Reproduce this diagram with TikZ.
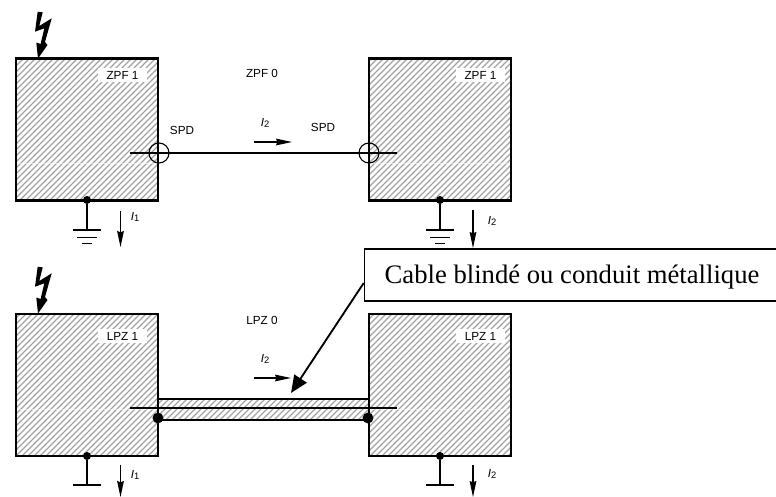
\documentclass[tikz,border=0pt]{standalone}
\usepackage{fontspec}
\setmainfont{Liberation Sans}
\newfontfamily\serifcallout{Liberation Serif}
\usetikzlibrary{arrows.meta}
\newcommand{\curlabel}[1]{\textit{I}\raisebox{-0.25ex}{\fontsize{7}{8}\selectfont #1}}
\newcommand{\hatchzone}[4]{%
  \begin{scope}
    \clip (#1,#2) rectangle (#3,#4);
    \foreach \k in {-600,-594,...,800} {\draw[hatchline] (\k,520) -- ++(520,-520);}
  \end{scope}}
\newcommand{\bolt}[1]{%
  \fill[black,shift={(0,#1)}] (37.7,11.7) -- (42.7,12.3) -- (39.3,26) -- (51.7,18.3) -- (45,42) -- (47.5,45) -- (38,58.5) -- (36.3,42.5) -- (40.6,44) -- (44.3,28.3) -- (35,31.7) -- cycle;}
\tikzset{
  x=0.75pt,y=-0.75pt,
  hatchline/.style={line width=1.05pt,draw=black!36},
  zonebox/.style={draw=black,line width=1.9pt,minimum width=106.5pt,minimum height=106.5pt,inner sep=0pt,outer sep=0pt},
  zonelabel/.style={fill=white,inner sep=0pt,minimum width=36.5pt,minimum height=10pt,font=\fontsize{8.8}{10}\selectfont},
  plainlabel/.style={inner sep=0pt,font=\fontsize{8.8}{10}\selectfont},
  curr/.style={inner sep=0pt,font=\fontsize{8.8}{10}\selectfont},
  wire/.style={draw=black,line width=0.85pt},
  currarrow/.style={draw=black,line width=0.85pt,-{Stealth[length=12pt,width=5pt,inset=1pt]}},
  earth/.style={draw=black,line width=0.85pt},
  dot/.style={circle,fill=black,inner sep=0pt,minimum size=#1},
  spd/.style={circle,draw=black,line width=0.85pt,minimum size=15pt,inner sep=0pt},
  faint/.style={draw=white,line width=0.35pt,opacity=0.55},
}
\begin{document}
\begin{tikzpicture}
\useasboundingbox (0,0) rectangle (776,497);
% hatching
\hatchzone{16}{59}{158}{200}
\hatchzone{369}{59}{511}{200}
\hatchzone{16}{314}{158}{456}
\hatchzone{369}{314}{511}{456}
\hatchzone{158}{399}{369}{420}
% faint lines
\draw[faint] (16,163) -- (158,163);
\draw[faint] (369,163) -- (511,163);
\draw[faint] (16,409) -- (158,409);
\draw[faint] (369,409) -- (511,409);
% zone labels
\node[zonelabel] (ztl) at (122.5,75) {ZPF 1};
\node[zonelabel] (ztr) at (480.5,75) {ZPF 1};
\node[zonelabel] (zbl) at (122.5,336) {LPZ 1};
\node[zonelabel] (zbr) at (480.5,336) {LPZ 1};
% boxes
\node[zonebox] (tl) at (87,129.5) {};
\node[zonebox] (tr) at (440,129.5) {};
\node[zonebox] (bl) at (87,385) {};
\node[zonebox] (br) at (440,385) {};
% plain labels
\node[plainlabel] (z0) at (262,73) {ZPF 0};
\node[plainlabel] (l0) at (262,320) {LPZ 0};
\node[plainlabel] (s1) at (182,130) {SPD};
\node[plainlabel] (s2) at (323,127) {SPD};
% bolts
\bolt{0}
\bolt{255}
% top wire
\coordinate (w1a) at (130,153);
\coordinate (w1b) at (397,153);
\draw[wire] (w1a) -- (w1b);
\node[spd] (c1) at (159,153) {};
\node[spd] (c2) at (369,153) {};
% cable
\coordinate (w2a) at (130,408);
\coordinate (w2b) at (397,408);
\coordinate (ct1) at (158,399);
\coordinate (ct2) at (369,399);
\coordinate (cb1) at (158,420);
\coordinate (cb2) at (369,420);
\draw[draw=black,line width=1.5pt] (ct1) -- (ct2);
\draw[wire] (cb1) -- (cb2);
\draw[wire] (w2a) -- (w2b);
\node[dot=8.2pt] (d1) at (158,418) {};
\node[dot=8.2pt] (d2) at (368,418) {};
% grounds
\node[dot=6pt] (g1) at (87,200) {};
\node[dot=6pt] (g2) at (440,200) {};
\node[dot=6pt] (g3) at (87,456) {};
\node[dot=6pt] (g4) at (440,456) {};
\coordinate (e1) at (87,230);
\coordinate (e2) at (440,230);
\coordinate (e3) at (87,485);
\coordinate (e4) at (440,485);
\draw[earth] (g1) -- (e1);
\draw[earth] (g2) -- (e2);
\draw[earth] (g3) -- (e3);
\draw[earth] (g4) -- (e4);
\foreach \p in {e1,e2,e3,e4} {\draw[earth] ([xshift=-10.5pt]\p) -- ([xshift=10.5pt]\p);}
\foreach \p in {e1,e2} {
  \draw[earth] ([xshift=-7.5pt,yshift=-5.5pt]\p) -- ([xshift=7.5pt,yshift=-5.5pt]\p);
  \draw[earth] ([xshift=-3.75pt,yshift=-10pt]\p) -- ([xshift=3.75pt,yshift=-10pt]\p);
}
% current arrows
\coordinate (a1s) at (120.5,211); \coordinate (a1e) at (120.5,247);
\coordinate (a2s) at (473,210);   \coordinate (a2e) at (473,248);
\coordinate (a3s) at (120.5,465); \coordinate (a3e) at (120.5,497);
\coordinate (a4s) at (473,465);   \coordinate (a4e) at (473,497);
\coordinate (a5s) at (254,142);   \coordinate (a5e) at (292,142);
\coordinate (a6s) at (254,378);   \coordinate (a6e) at (291,378);
\foreach \s/\e in {a1s/a1e,a2s/a2e,a3s/a3e,a4s/a4e,a5s/a5e,a6s/a6e} {\draw[currarrow] (\s) -- (\e);}
\node[curr] (i1) at (135,217) {\curlabel{1}};
\node[curr] (i2) at (492,221) {\curlabel{2}};
\node[curr] (i3) at (135,475) {\curlabel{1}};
\node[curr] (i4) at (492,474) {\curlabel{2}};
\node[curr] (i5) at (265,123) {\curlabel{2}};
\node[curr] (i6) at (265,359) {\curlabel{2}};
% callout
\node[draw=black,line width=0.95pt,fill=white,inner sep=0pt,minimum width=316pt,minimum height=39pt] (call) at (575,275) {};
\node[inner sep=0pt,font=\serifcallout\fontsize{20}{22}\selectfont] (calltext) at (572,277) {Cable blindé ou conduit métallique};
\coordinate (calltip) at (291,393);
\draw[draw=black,line width=1.4pt,-{Triangle[length=13pt,width=11pt]}] (call.west |- 364,283) -- (calltip);
\end{tikzpicture}
\end{document}
